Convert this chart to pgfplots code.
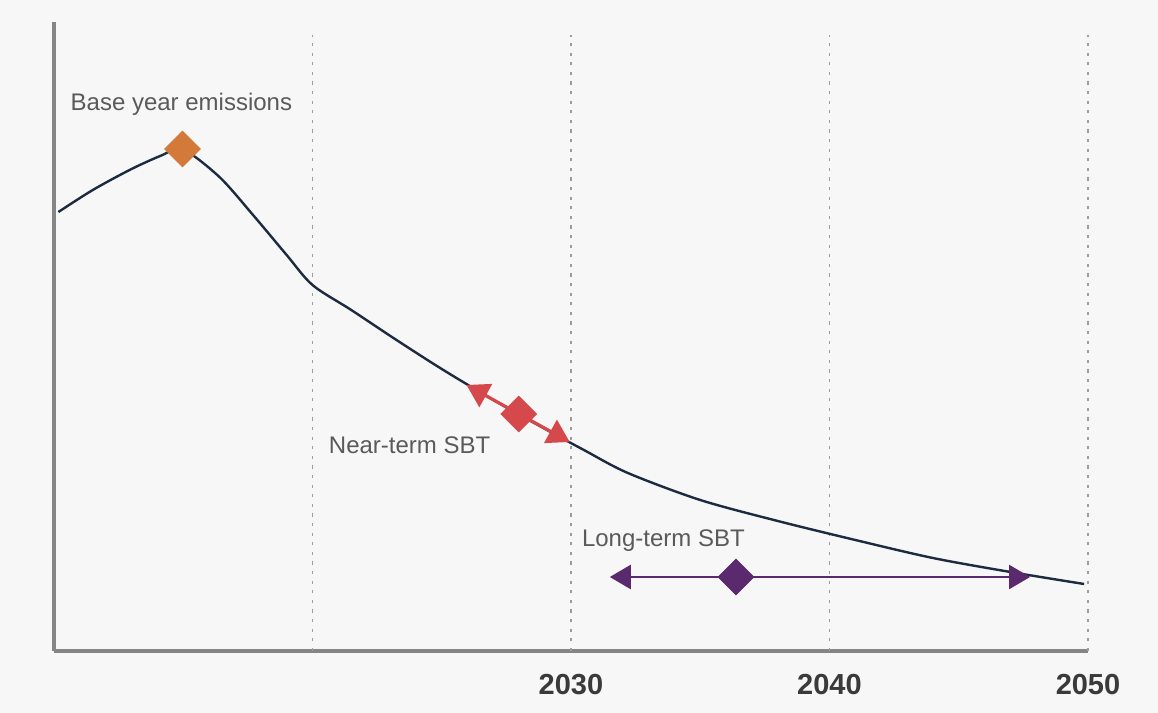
\documentclass[border=0pt]{standalone}
\usepackage{pgfplots}
\pgfplotsset{compat=1.18}
\usepackage{fontspec}
\setmainfont{Liberation Sans}
\usetikzlibrary{arrows.meta}
\definecolor{bgc}{HTML}{F7F7F7}
\definecolor{navy}{HTML}{1C2B40}
\definecolor{orng}{HTML}{D3793A}
\definecolor{redc}{HTML}{D5484B}
\definecolor{purp}{HTML}{5B2A6E}
\definecolor{axc}{HTML}{858585}
\definecolor{txt}{HTML}{5A5A5A}
\definecolor{tick}{HTML}{3A3A3A}
\begin{document}
\begin{tikzpicture}[x=1pt,y=1pt]
\fill[bgc] (0,0) rectangle (579,356.5);
\useasboundingbox (0,0) rectangle (579,356.5);
\begin{axis}[
  at={(27pt,31pt)}, anchor=origin,
  scale only axis, width=517pt, height=314.5pt,
  xmin=2010, xmax=2050, ymin=0, ymax=629,
  axis x line=bottom, axis y line=left,
  axis line style={-, draw=axc, line width=1.6pt},
  xtick={2030,2040,2050}, ytick=\empty,
  major tick length=0pt,
  xticklabel style={font=\fontsize{14.5}{16}\selectfont\bfseries, text=tick, yshift=-8pt},
  /pgf/number format/assume math mode=true,
  /pgf/number format/1000 sep={},
  clip=false,
]
\foreach \g in {2020,2030,2040,2050}{
  \edef\temp{\noexpand\draw[axc!80, line width=0.9pt, dash pattern=on 1.6pt off 3.2pt] (axis cs:\g,0) -- (axis cs:\g,616);}
  \temp
}
\addplot[navy, line width=1.2pt, smooth, tension=0.5, no marks] coordinates {
(2010.17,439) (2011.5,461) (2013.0,482) (2014.2,496) (2014.97,502)
(2016.4,474) (2017.7,436) (2019.0,396) (2020.0,366)
(2021.5,341) (2023.25,311) (2025.0,282) (2027.0,251) (2029.0,222)
(2030.5,201) (2032.2,178) (2035.0,151) (2038.0,130) (2041.0,111)
(2044.0,93) (2047.0,79) (2049.85,67)
};
\addplot[redc, line width=1.6pt, no marks, {Triangle[length=11pt,width=13pt]}-{Triangle[length=11pt,width=13pt]}] coordinates {(2025.96,266) (2029.95,209)};
\addplot[purp, line width=1.2pt, no marks, {Triangle[length=10.5pt,width=12pt]}-{Triangle[length=10.5pt,width=12pt]}] coordinates {(2031.5,74) (2047.76,74)};
\addplot[only marks, mark=square*, mark size=6.3pt, mark options={rotate=45, fill=orng, draw=orng}] coordinates {(2014.97,502)};
\addplot[only marks, mark=square*, mark size=6.3pt, mark options={rotate=45, fill=redc, draw=redc}] coordinates {(2027.98,237)};
\addplot[only marks, mark=square*, mark size=6.3pt, mark options={rotate=45, fill=purp, draw=purp}] coordinates {(2036.38,74)};
\node[anchor=west, text=txt, font=\fontsize{12}{14}\selectfont, inner sep=0pt] at (axis cs:2010.63,547) {Base year emissions};
\node[anchor=west, text=txt, font=\fontsize{12}{14}\selectfont, inner sep=0pt] at (axis cs:2020.62,206) {Near-term SBT};
\node[anchor=west, text=txt, font=\fontsize{12}{14}\selectfont, inner sep=0pt] at (axis cs:2030.41,110) {Long-term SBT};
\end{axis}
\end{tikzpicture}
\end{document}
